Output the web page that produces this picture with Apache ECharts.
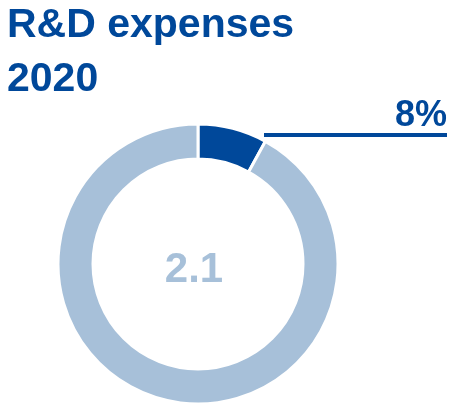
<!DOCTYPE html>
<html>
<head>
<meta charset="utf-8">
<script src="https://cdn.jsdelivr.net/npm/echarts@6/dist/echarts.min.js"></script>
<style>
  html, body { margin: 0; padding: 0; background: #fff; }
  #chart { width: 454px; height: 404px; }
</style>
</head>
<body>
<div id="chart"></div>
<script>
// data
var segmentNames = ["R&D", "Other"];
var segmentShares = [8, 92];
var centerValue = "2.1";
var titleLines = ["R&D expenses", "2020"];

var darkBlue = "#00489a";
var lightBlue = "#a7c0d9";

var chart = echarts.init(document.getElementById("chart"));

var total = segmentShares.reduce(function (a, b) { return a + b; }, 0);

var pieData = segmentNames.map(function (name, i) {
    return {
        name: name,
        value: segmentShares[i],
        itemStyle: { color: i === 0 ? darkBlue : lightBlue },
        label: { show: i === 0 }
    };
});

chart.setOption({
    animation: false,
    title: [
        {
            text: titleLines.join("\n"),
            left: 2,
            top: -6,
            textStyle: {
                fontFamily: "Liberation Sans",
                fontSize: 41,
                fontWeight: "bold",
                lineHeight: 54,
                color: darkBlue
            }
        }
    ],
    graphic: [
        {
            type: "text",
            x: 194,
            y: 270,
            style: {
                text: centerValue,
                fontFamily: "Liberation Sans",
                fontSize: 42,
                fontWeight: "bold",
                fill: lightBlue,
                align: "center",
                verticalAlign: "middle"
            }
        }
    ],
    series: [
        {
            type: "pie",
            center: [198, 264],
            radius: [105, 140],
            startAngle: 90,
            clockwise: true,
            silent: true,
            itemStyle: { borderColor: "#fff", borderWidth: 3 },
            labelLine: { show: false },
            label: {
                position: "inside",
                formatter: function (p) {
                    return "{v|" + Math.round(p.value / total * 100) + "%}\n{line| }";
                },
                align: "right",
                rich: {
                    v: {
                        fontFamily: "Liberation Sans",
                        fontSize: 36,
                        fontWeight: "bold",
                        color: darkBlue,
                        lineHeight: 34,
                        align: "right"
                    },
                    line: {
                        backgroundColor: darkBlue,
                        width: 183,
                        height: 4,
                        lineHeight: 4,
                        fontSize: 4
                    }
                }
            },
            labelLayout: function () {
                return { x: 447, y: 137, align: "right", verticalAlign: "bottom" };
            },
            data: pieData
        }
    ]
});
</script>
</body>
</html>
